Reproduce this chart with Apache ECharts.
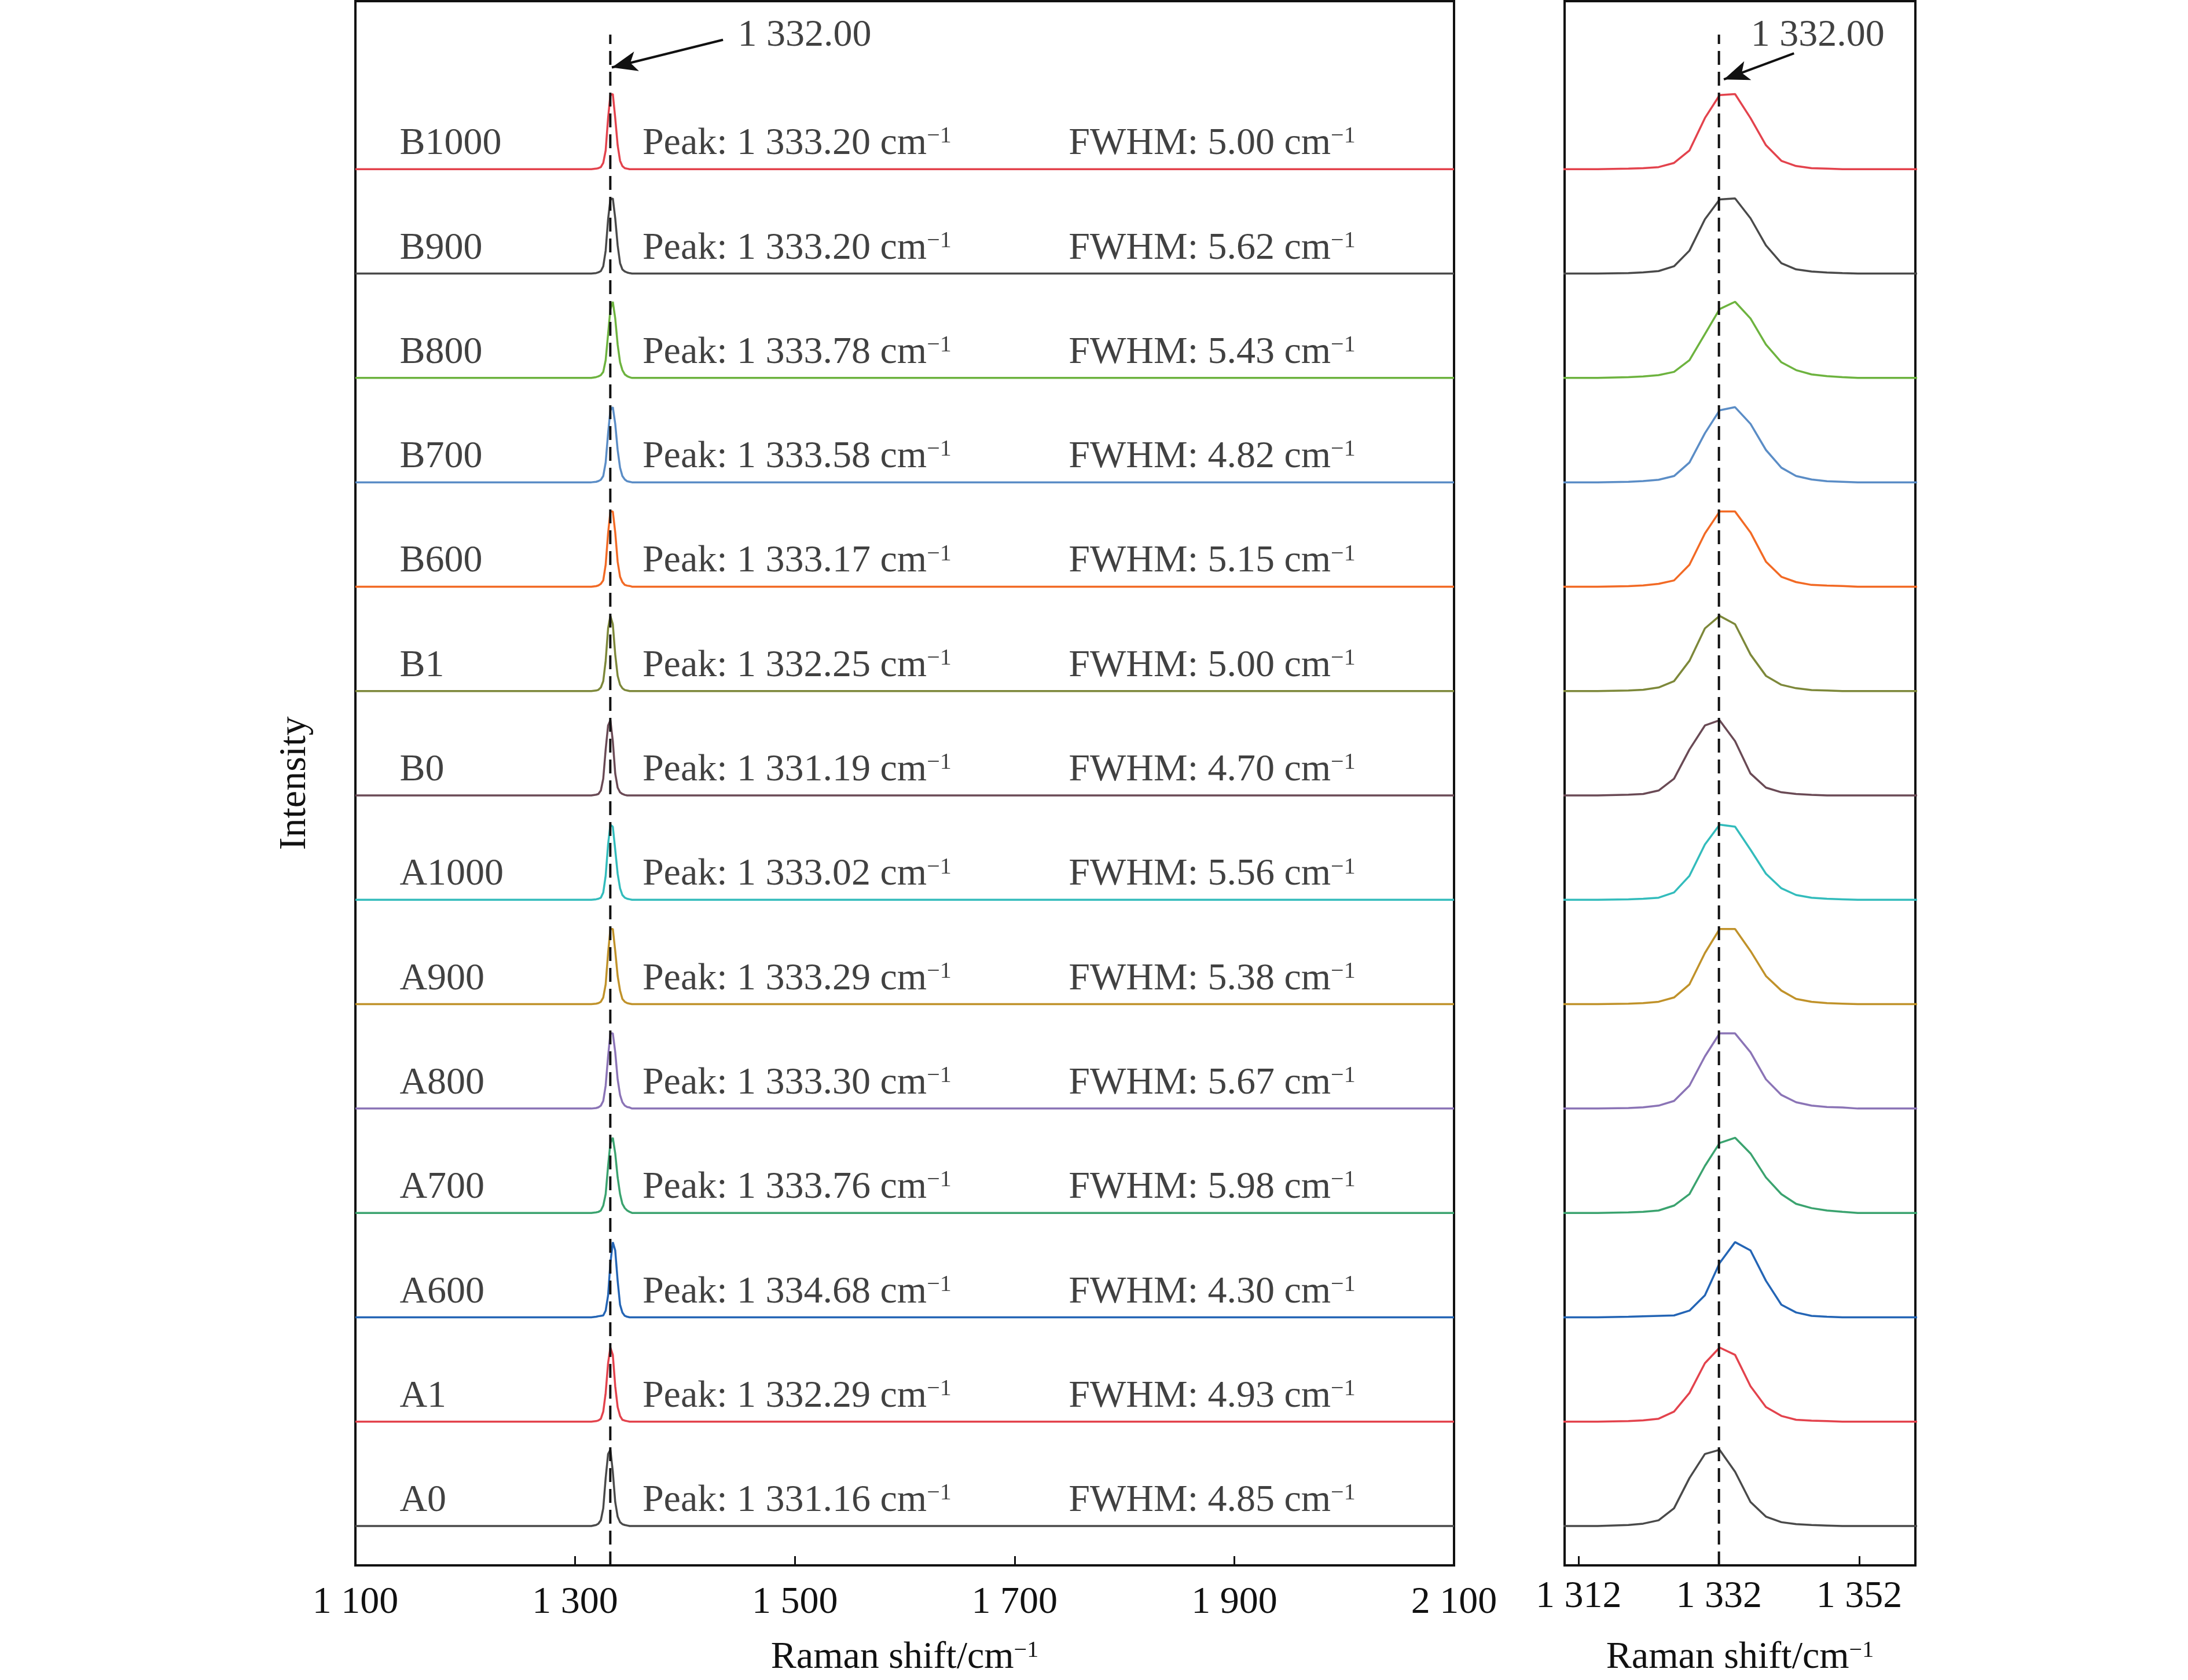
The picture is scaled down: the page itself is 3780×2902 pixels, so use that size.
<!DOCTYPE html>
<html>
<head>
<meta charset="utf-8">
<script src="https://cdn.jsdelivr.net/npm/echarts@6/dist/echarts.min.js"></script>
<style>
html,body{margin:0;padding:0;background:#fff;}
#chart{width:3780px;height:2902px;}
</style>
</head>
<body>
<div id="chart"></div>
<script>
// samples, top to bottom
var sampleNames = ['B1000','B900','B800','B700','B600','B1','B0','A1000','A900','A800','A700','A600','A1','A0'];
var peakText = ['1 333.20','1 333.20','1 333.78','1 333.58','1 333.17','1 332.25','1 331.19','1 333.02','1 333.29','1 333.30','1 333.76','1 334.68','1 332.29','1 331.16'];
var fwhmText = ['5.00','5.62','5.43','4.82','5.15','5.00','4.70','5.56','5.38','5.67','5.98','4.30','4.93','4.85'];
var colors = ['#e3434d','#4a4a4a','#6db33f','#5b8dc6','#f26a25','#7d883a','#6a4a55','#33bcbc','#c0922a','#8b74b6','#3ba36f','#2465b5','#e3434d','#4a4a4a'];

// Raman shift grid around the diamond peak (cm-1)
var shiftX = [1319.1,1321.2,1323.4,1325.6,1327.8,1330.0,1332.1,1334.3,1336.5,1338.7,1340.9,1343.0,1345.2,1347.4,1349.6,1351.8];
// flat baseline points outside the peak
var wideLeftX = [1100,1200,1290,1310.3,1314.7];
var wideRightX = [1356.1,1360.5,1400,1600,1800,2100];

// normalised intensity above each baseline, on shiftX
var B1000 = [0.005,0.01,0.02,0.06,0.18,0.49,0.71,0.72,0.49,0.23,0.08,0.03,0.01,0.005,0,0];
var B900  = [0.005,0.012,0.024,0.07,0.22,0.52,0.71,0.72,0.53,0.27,0.10,0.04,0.02,0.01,0.004,0];
var B800  = [0.008,0.015,0.027,0.058,0.17,0.42,0.66,0.73,0.57,0.32,0.15,0.075,0.034,0.017,0.007,0];
var B700  = [0.005,0.012,0.024,0.06,0.19,0.47,0.69,0.72,0.56,0.31,0.14,0.06,0.027,0.01,0.005,0];
var B600  = [0.005,0.012,0.027,0.06,0.21,0.51,0.72,0.72,0.52,0.24,0.095,0.044,0.017,0.01,0.007,0];
var B1    = [0.005,0.012,0.034,0.095,0.29,0.60,0.72,0.64,0.35,0.146,0.06,0.027,0.01,0.005,0,0];
var B0    = [0.007,0.014,0.047,0.16,0.44,0.67,0.72,0.52,0.21,0.075,0.03,0.014,0.005,0,0,0];
var A1000 = [0.005,0.01,0.02,0.07,0.23,0.53,0.72,0.70,0.48,0.25,0.11,0.046,0.02,0.01,0.005,0];
var A900  = [0.005,0.01,0.023,0.064,0.19,0.49,0.72,0.72,0.51,0.27,0.13,0.05,0.023,0.01,0.005,0];
var A800  = [0.005,0.012,0.028,0.073,0.22,0.50,0.72,0.72,0.54,0.28,0.13,0.06,0.028,0.015,0.01,0];
var A700  = [0.005,0.01,0.023,0.07,0.18,0.45,0.67,0.72,0.57,0.34,0.18,0.087,0.046,0.023,0.01,0];
var A600  = [0.005,0.01,0.014,0.018,0.064,0.21,0.52,0.72,0.64,0.35,0.12,0.046,0.014,0.005,0,0];
var A1    = [0.005,0.012,0.028,0.096,0.275,0.56,0.71,0.64,0.34,0.14,0.055,0.018,0.01,0.005,0,0];
var A0    = [0.01,0.023,0.055,0.17,0.46,0.69,0.73,0.52,0.23,0.09,0.037,0.018,0.01,0.005,0,0];
var rows = [B1000,B900,B800,B700,B600,B1,B0,A1000,A900,A800,A700,A600,A1,A0];

var refPeak = 1332;
var refText = '1 332.00';
var rightTicks = [1312,1332,1352];

var FONT = 'Liberation Serif';
var INK = '#111';
var Y_MIN = -0.377, Y_MAX = 14.61;

function sep(v){
    return String(v).replace(/\B(?=(\d{3})+(?!\d))/g, ' ');
}
var rich = {
    n: {fontFamily: FONT, fontSize: 66, color: INK, lineHeight: 66},
    s: {fontFamily: FONT, fontSize: 40, color: INK, lineHeight: 34, verticalAlign: 'top'}
};

function spectrum(vals, offset){
    var pts = [];
    for (var i = 0; i < wideLeftX.length; i++) pts.push([wideLeftX[i], offset]);
    for (i = 0; i < shiftX.length; i++) pts.push([shiftX[i], offset + vals[i]]);
    for (i = 0; i < wideRightX.length; i++) pts.push([wideRightX[i], offset]);
    return pts;
}

var series = [];
var labelData = [];
for (var i = 0; i < rows.length; i++) {
    var off = rows.length - 1 - i;
    var pts = spectrum(rows[i], off);
    for (var g = 0; g < 2; g++) {
        series.push({
            type: 'line', xAxisIndex: g, yAxisIndex: g,
            data: pts, showSymbol: false, symbol: 'none',
            lineStyle: {color: colors[i], width: 3.5},
            silent: true, z: 2
        });
    }
    labelData.push({value: [1140, off + 0.24], label: {formatter: '{n|' + sampleNames[i] + '}'}});
    labelData.push({value: [1361, off + 0.24], label: {formatter: '{n|Peak: ' + peakText[i] + ' cm}{s|\u22121}'}});
    labelData.push({value: [1749, off + 0.24], label: {formatter: '{n|FWHM: ' + fwhmText[i] + ' cm}{s|\u22121}'}});
}
labelData.push({value: [1447.7, 14.28], label: {formatter: '{n|' + refText + '}'}});

// text labels
series.push({
    type: 'scatter', xAxisIndex: 0, yAxisIndex: 0,
    data: labelData, symbolSize: 1, itemStyle: {color: 'rgba(0,0,0,0)'},
    label: {show: true, position: 'right', distance: 0, rich: rich},
    silent: true, z: 6
});
series.push({
    type: 'scatter', xAxisIndex: 1, yAxisIndex: 1,
    data: [{value: [1336.5, 14.28], label: {formatter: '{n|' + refText + '}'}}],
    symbolSize: 1, itemStyle: {color: 'rgba(0,0,0,0)'},
    label: {show: true, position: 'right', distance: 0, rich: rich},
    silent: true, z: 6
});

// dashed reference line + arrow in each panel
var arrows = [
    [[1434.6, 14.24], [1333.4, 13.975]],
    [[1342.7, 14.11], [1332.7, 13.86]]
];
for (var g2 = 0; g2 < 2; g2++) {
    series.push({
        type: 'line', xAxisIndex: g2, yAxisIndex: g2,
        data: [[refPeak, Y_MIN], [refPeak, 14.29]],
        symbol: 'none', showSymbol: false,
        lineStyle: {color: INK, width: 4, type: [24, 12]},
        silent: true, z: 5,
        markLine: {
            silent: true, animation: false,
            label: {show: false},
            lineStyle: {color: INK, width: 4, type: 'solid'},
            data: [[
                {coord: arrows[g2][0], symbol: 'none'},
                {coord: arrows[g2][1], symbol: 'arrow', symbolSize: [26, 44]}
            ]]
        }
    });
}

var myChart = echarts.init(document.getElementById('chart'));
var option = {
    animation: false,
    backgroundColor: '#fff',
    grid: [
        {left: 614, top: 2, width: 1898, height: 2704, show: true, borderColor: INK, borderWidth: 4, backgroundColor: 'transparent'},
        {left: 2703, top: 2, width: 606, height: 2704, show: true, borderColor: INK, borderWidth: 4, backgroundColor: 'transparent'}
    ],
    xAxis: [
        {
            type: 'value', gridIndex: 0, min: 1100, max: 2100, interval: 200,
            axisLine: {show: false, onZero: false}, splitLine: {show: false},
            axisTick: {show: true, inside: true, length: 16, lineStyle: {color: INK, width: 3}},
            axisLabel: {fontFamily: FONT, fontSize: 66, color: INK, margin: 32, formatter: sep},
            name: '{n|Raman shift/cm}{s|\u22121}', nameLocation: 'middle', nameGap: 127,
            nameTextStyle: {rich: rich}
        },
        {
            type: 'value', gridIndex: 1, min: 1310, max: 1360,
            axisLine: {show: false, onZero: false}, splitLine: {show: false},
            axisTick: {show: true, inside: true, length: 16, lineStyle: {color: INK, width: 3}, customValues: rightTicks},
            axisLabel: {fontFamily: FONT, fontSize: 66, color: INK, margin: 22, formatter: sep, customValues: rightTicks},
            name: '{n|Raman shift/cm}{s|\u22121}', nameLocation: 'middle', nameGap: 127,
            nameTextStyle: {rich: rich}
        }
    ],
    yAxis: [
        {
            type: 'value', gridIndex: 0, min: Y_MIN, max: Y_MAX,
            axisLine: {show: false, onZero: false}, axisTick: {show: false}, axisLabel: {show: false}, splitLine: {show: false},
            name: 'Intensity', nameLocation: 'middle', nameRotate: 90, nameGap: 71,
            nameTextStyle: {fontFamily: FONT, fontSize: 66, color: INK}
        },
        {
            type: 'value', gridIndex: 1, min: Y_MIN, max: Y_MAX,
            axisLine: {show: false, onZero: false}, axisTick: {show: false}, axisLabel: {show: false}, splitLine: {show: false}
        }
    ],
    series: series
};
myChart.setOption(option);
window.onresize = myChart.resize;
</script>
</body>
</html>
